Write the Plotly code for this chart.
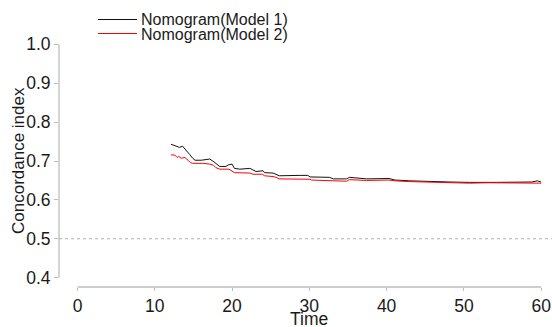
import plotly.graph_objects as go

# ---- data ----
time_m1 = [12.1, 12.8, 13.2, 13.6, 13.9, 14.5, 14.9, 15.2, 16.0, 17.1, 17.5, 18.0, 18.4, 19.2,
           19.5, 20.0, 20.3, 21.0, 22.3, 22.7, 23.1, 24.0, 24.2, 25.3, 25.7, 26.1, 28.8, 29.8,
           30.1, 32.6, 33.1, 34.8, 35.2, 37.4, 40.3, 41.1, 43.0, 45.2, 48.2, 50.7, 53.1, 54.2,
           58.8, 59.5, 60.0]
cindex_m1 = [0.743, 0.737, 0.735, 0.738, 0.730, 0.717, 0.707, 0.702, 0.702, 0.705, 0.700, 0.692,
             0.686, 0.686, 0.690, 0.692, 0.681, 0.679, 0.681, 0.677, 0.673, 0.675, 0.670, 0.669,
             0.666, 0.662, 0.663, 0.663, 0.659, 0.658, 0.654, 0.654, 0.658, 0.654, 0.655, 0.651,
             0.649, 0.647, 0.646, 0.645, 0.646, 0.645, 0.646, 0.649, 0.646]

time_m2 = [12.1, 12.6, 12.9, 13.1, 13.4, 13.9, 14.3, 14.6, 14.9, 16.2, 17.1, 17.6, 17.9, 18.4,
           19.6, 20.3, 22.3, 22.7, 23.9, 24.2, 25.3, 25.7, 26.1, 29.9, 30.1, 30.3, 33.1, 34.8,
           35.2, 37.4, 40.3, 41.1, 43.0, 45.2, 48.2, 50.7, 53.1, 60.0]
cindex_m2 = [0.716, 0.715, 0.709, 0.712, 0.707, 0.709, 0.702, 0.696, 0.694, 0.694, 0.692, 0.689,
             0.683, 0.679, 0.679, 0.670, 0.669, 0.666, 0.666, 0.662, 0.660, 0.658, 0.654, 0.654,
             0.653, 0.651, 0.648, 0.648, 0.652, 0.650, 0.651, 0.649, 0.647, 0.646, 0.645, 0.643,
             0.644, 0.643]

series_names = ["Nomogram(Model 1)", "Nomogram(Model 2)"]
series_colors = ["rgb(17,17,17)", "rgb(255,0,0)"]

x_ticks = [0, 10, 20, 30, 40, 50, 60]
y_ticks = [0.4, 0.5, 0.6, 0.7, 0.8, 0.9, 1.0]
ref_line = 0.5

FONT = "Liberation Sans, Arial, Helvetica, sans-serif"
AXIS_GRAY = "#bdbdbd"
TEXT = "#1a1a1a"

W, H = 552, 327
ML, MR, MT, MB = 59, 0, 35, 40
PW, PH = W - ML - MR, H - MT - MB


def px_x(px):
    return (px - ML) / PW


def px_y(py):
    return (H - MB - py) / PH


fig = go.Figure()
for t, c, name, col in [(time_m1, cindex_m1, series_names[0], series_colors[0]),
                        (time_m2, cindex_m2, series_names[1], series_colors[1])]:
    fig.add_trace(go.Scatter(x=t, y=c, mode="lines", name=name,
                             line=dict(color=col, width=1), showlegend=False))

shapes = [
    dict(type="line", xref="paper", x0=0, x1=1, yref="y", y0=ref_line, y1=ref_line,
         line=dict(color="#b0b0b0", width=1, dash="dot")),
    dict(type="line", xref="paper", x0=0, x1=0, yref="y", y0=y_ticks[0], y1=y_ticks[-1],
         line=dict(color=AXIS_GRAY, width=1.3)),
    dict(type="line", xref="x", x0=x_ticks[0], x1=x_ticks[-1], yref="paper", y0=0, y1=0,
         line=dict(color=AXIS_GRAY, width=1.3)),
]

annotations = []
legend_y = [19.5, 33.5]
for i, (nm, col) in enumerate(zip(series_names, series_colors)):
    shapes.append(dict(type="line", xref="paper", yref="paper", layer="above",
                       x0=px_x(98), x1=px_x(137),
                       y0=px_y(legend_y[i]), y1=px_y(legend_y[i]),
                       line=dict(width=1.1, color=col)))
    annotations.append(dict(xref="paper", yref="paper", x=px_x(138.5), y=px_y(legend_y[i] + 0.5),
                            xanchor="left", yanchor="middle", showarrow=False,
                            text=nm, font=dict(family=FONT, size=16, color=TEXT)))

annotations.append(dict(xref="paper", yref="paper", x=px_x(18), y=0.5, textangle=-90,
                        xanchor="center", yanchor="middle", showarrow=False,
                        text="Concordance index", font=dict(family=FONT, size=17, color=TEXT)))
annotations.append(dict(xref="x", yref="paper", x=30, y=px_y(319), xanchor="center",
                        yanchor="middle", showarrow=False, text="Time",
                        font=dict(family=FONT, size=17.5, color=TEXT)))

fig.update_layout(
    width=W, height=H,
    margin=dict(l=ML, r=MR, t=MT, b=MB, pad=0),
    paper_bgcolor="white", plot_bgcolor="white",
    showlegend=False,
    shapes=shapes, annotations=annotations,
    xaxis=dict(range=[-2.4, -2.4 + PW / 7.727], tickvals=x_ticks, ticks="outside", ticklen=3,
               tickcolor=AXIS_GRAY, tickwidth=1.2, showline=False, showgrid=False, zeroline=False,
               tickfont=dict(family=FONT, size=17.5, color=TEXT)),
    yaxis=dict(range=[0.376, 1.024], tickvals=y_ticks, ticktext=[f"{v:.1f}" for v in y_ticks],
               ticks="outside", ticklen=4, tickcolor=AXIS_GRAY, tickwidth=1.2, showline=False,
               showgrid=False, zeroline=False,
               tickfont=dict(family=FONT, size=17.5, color=TEXT)),
)

fig.write_html("out.html")
